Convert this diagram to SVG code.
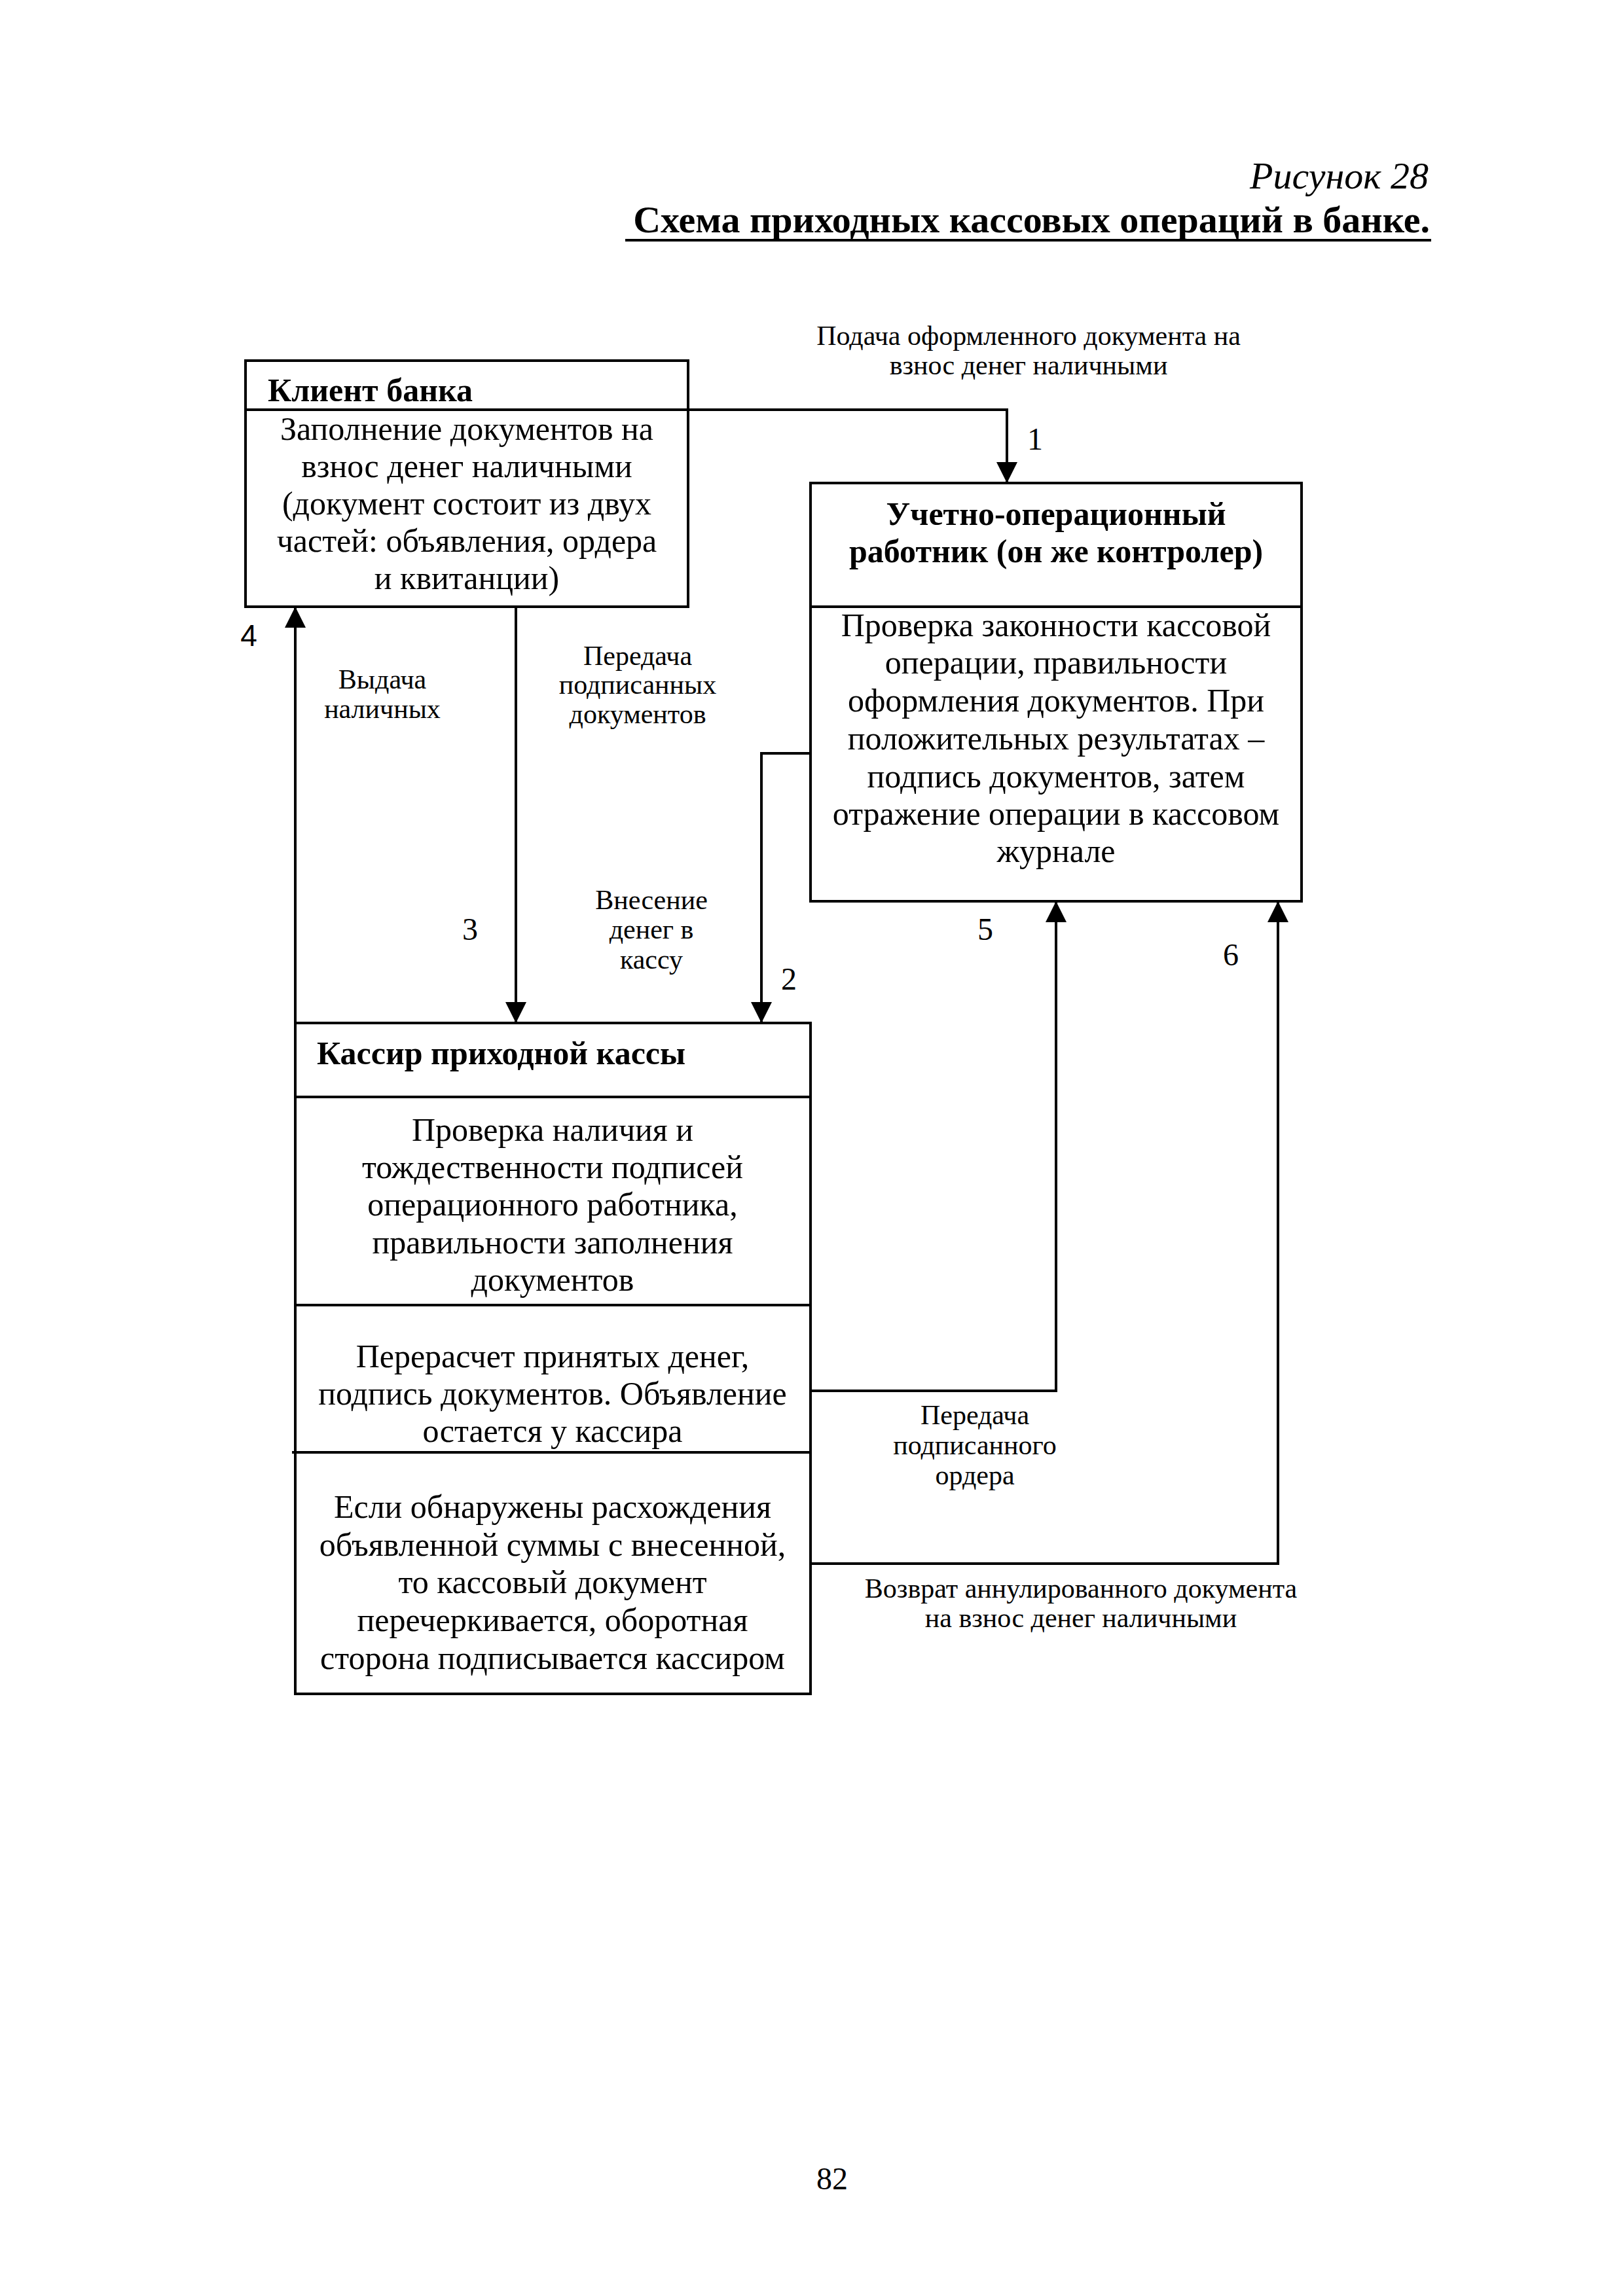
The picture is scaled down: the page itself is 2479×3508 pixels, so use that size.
<svg xmlns="http://www.w3.org/2000/svg" width="2479" height="3508" viewBox="0 0 2479 3508">
<style>
.box{fill:none;stroke:#000;stroke-width:4}
.sep{stroke:#000;stroke-width:4}
.con{fill:none;stroke:#000;stroke-width:4}
.t{font-family:"Liberation Serif","Times New Roman",serif;font-size:50px;fill:#000}
.c{text-anchor:middle}
.b{font-weight:bold}
.s{font-family:"Liberation Serif","Times New Roman",serif;font-size:42px;fill:#000;text-anchor:middle}
.n{font-family:"Liberation Serif","Times New Roman",serif;font-size:48px;fill:#000;text-anchor:middle}
</style>
<defs>
<marker id="arr" viewBox="0 0 32 32" markerWidth="32" markerHeight="32" refX="32" refY="16" orient="auto" markerUnits="userSpaceOnUse">
<path d="M0,0 L32,16 L0,32 z" fill="#000"/>
</marker>
</defs>
<rect width="2479" height="3508" fill="#fff"/>

<g id="title">
<text x="2182" y="288" class="t" style="font-style:italic;font-size:58px" text-anchor="end">Рисунок 28</text>
<text x="2184" y="355" class="t b" style="font-size:58px" text-anchor="end">Схема приходных кассовых операций в банке.</text>
<line x1="955" y1="367" x2="2186" y2="367" stroke="#000" stroke-width="4"/>
</g>

<g id="client">
<rect class="box" x="375" y="551" width="676" height="376"/>
<line class="sep" x1="375" y1="626" x2="1051" y2="626"/>
<text x="409" y="613" class="t b">Клиент банка</text>
<text class="t c" x="713" y="672">Заполнение документов на</text>
<text class="t c" x="713" y="729">взнос денег наличными</text>
<text class="t c" x="713" y="786">(документ состоит из двух</text>
<text class="t c" x="713" y="843">частей: объявления, ордера</text>
<text class="t c" x="713" y="900">и квитанции)</text>
</g>

<g id="operator">
<rect class="box" x="1238" y="738" width="750" height="639"/>
<line class="sep" x1="1238" y1="927" x2="1988" y2="927"/>
<text class="t c b" x="1613" y="802">Учетно-операционный</text>
<text class="t c b" x="1613" y="859">работник (он же контролер)</text>
<text class="t c" x="1613" y="972">Проверка законности кассовой</text>
<text class="t c" x="1613" y="1029">операции, правильности</text>
<text class="t c" x="1613" y="1087">оформления документов. При</text>
<text class="t c" x="1613" y="1145">положительных результатах –</text>
<text class="t c" x="1613" y="1203">подпись документов, затем</text>
<text class="t c" x="1613" y="1260">отражение операции в кассовом</text>
<text class="t c" x="1613" y="1317">журнале</text>
</g>

<g id="cashier">
<rect class="box" x="451" y="1563" width="787" height="1025"/>
<line class="sep" x1="451" y1="1676" x2="1238" y2="1676"/>
<line class="sep" x1="451" y1="1994" x2="1238" y2="1994"/>
<line class="sep" x1="446" y1="2219" x2="1238" y2="2219"/>
<text x="484" y="1626" class="t b">Кассир приходной кассы</text>
<text class="t c" x="844" y="1743">Проверка наличия и</text>
<text class="t c" x="844" y="1800">тождественности подписей</text>
<text class="t c" x="844" y="1857">операционного работника,</text>
<text class="t c" x="844" y="1915">правильности заполнения</text>
<text class="t c" x="844" y="1972">документов</text>
<text class="t c" x="844" y="2089">Перерасчет принятых денег,</text>
<text class="t c" x="844" y="2146">подпись документов. Объявление</text>
<text class="t c" x="844" y="2203">остается у кассира</text>
<text class="t c" x="844" y="2319">Если обнаружены расхождения</text>
<text class="t c" x="844" y="2377">объявленной суммы с внесенной,</text>
<text class="t c" x="844" y="2434">то кассовый документ</text>
<text class="t c" x="844" y="2492">перечеркивается, оборотная</text>
<text class="t c" x="844" y="2550">сторона подписывается кассиром</text>
</g>

<g id="connectors">
<path class="con" d="M1051,626 H1538 V738" marker-end="url(#arr)"/>
<path class="con" d="M1238,1151 H1163 V1563" marker-end="url(#arr)"/>
<path class="con" d="M788,927 V1563" marker-end="url(#arr)"/>
<path class="con" d="M451,1563 V927" marker-end="url(#arr)"/>
<path class="con" d="M1238,2125 H1613 V1377" marker-end="url(#arr)"/>
<path class="con" d="M1238,2389 H1952 V1377" marker-end="url(#arr)"/>
</g>

<g id="labels">
<text class="s" x="1571" y="527">Подача оформленного документа на</text>
<text class="s" x="1571" y="572">взнос денег наличными</text>
<text class="n" x="1581" y="687">1</text>
<text class="n" x="1205" y="1512">2</text>
<text class="n" x="718" y="1436">3</text>
<text x="380" y="987" style="font-family:'Liberation Sans',Arial,sans-serif;font-size:46px" text-anchor="middle">4</text>
<text class="n" x="1505" y="1436">5</text>
<text class="n" x="1880" y="1475">6</text>
<text class="s" x="584" y="1052">Выдача</text>
<text class="s" x="584" y="1097">наличных</text>
<text class="s" x="974" y="1016">Передача</text>
<text class="s" x="974" y="1060">подписанных</text>
<text class="s" x="974" y="1105">документов</text>
<text class="s" x="995" y="1389">Внесение</text>
<text class="s" x="995" y="1434">денег в</text>
<text class="s" x="995" y="1480">кассу</text>
<text class="s" x="1489" y="2176">Передача</text>
<text class="s" x="1489" y="2222">подписанного</text>
<text class="s" x="1489" y="2268">ордера</text>
<text class="s" x="1651" y="2441">Возврат аннулированного документа</text>
<text class="s" x="1651" y="2486">на взнос денег наличными</text>
</g>

<text class="n" x="1271" y="3345">82</text>
</svg>
